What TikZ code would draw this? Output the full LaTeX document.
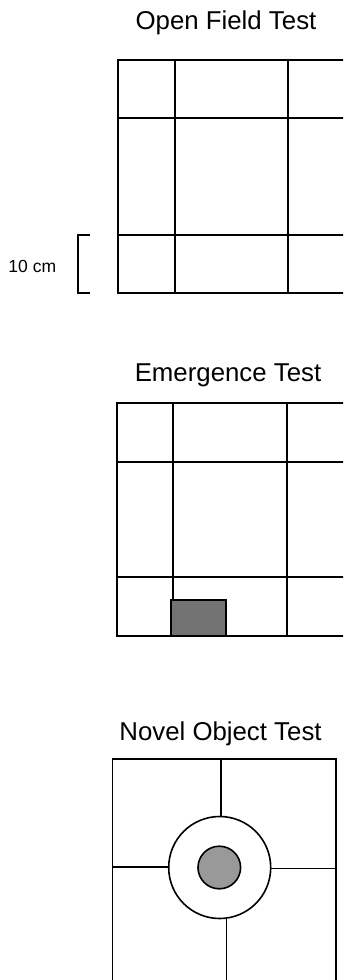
\documentclass[tikz,border=0pt]{standalone}
\usepackage{fontspec}
\setmainfont{Liberation Sans}
\begin{document}
\begin{tikzpicture}[x=1pt,y=-1pt,
  titletext/.style={anchor=base,inner sep=0pt,font=\fontsize{25.8}{30}\selectfont},
  smalltext/.style={anchor=base west,inner sep=0pt,font=\fontsize{17.5}{21}\selectfont},
  wall/.style={draw=black,line width=1.7pt},
  gridline/.style={draw=black,line width=1.6pt},
  thinline/.style={draw=black,line width=1.3pt}]
\useasboundingbox (0,0) rectangle (343,980);
\clip (0,0) rectangle (343,980);
% Open Field Test
\node[titletext] (t1) at (226,29.3) {Open Field Test};
\draw[gridline] (175,60) -- (175,293) (288,60) -- (288,293)
  (118,118) -- (345,118) (118,235) -- (345,235);
\draw[wall] (118,60) rectangle (346,293);
% scale bar
\node[smalltext] (scale) at (8.3,272.5) {10 cm};
\draw[thinline] (90,235) -- (78,235) -- (78,293) -- (90,293);
% Emergence Test
\node[titletext] (t2) at (228,381) {Emergence Test};
\draw[gridline] (173,403) -- (173,636) (287,403) -- (287,636)
  (117,462) -- (345,462) (117,577) -- (345,577);
\fill[black!55] (171,600) rectangle (226,636);
\draw[gridline] (171,600) rectangle (226,636);
\draw[wall] (117,403) rectangle (346,636);
% Novel Object Test
\node[titletext] (t3) at (220.5,740) {Novel Object Test};
\draw[gridline] (221,759) -- (221,867.5) (226.5,867.5) -- (226.5,990)
  (112.5,867) -- (219.7,867) (219.7,868.5) -- (336,868.5);
\draw[wall] (112.5,990) -- (112.5,759) -- (336,759) -- (336,990);
\draw[gridline,fill=white] (219.7,867.5) circle[radius=51];
\draw[gridline,fill=black!40] (219.3,867.5) circle[radius=21.3];
\end{tikzpicture}
\end{document}
